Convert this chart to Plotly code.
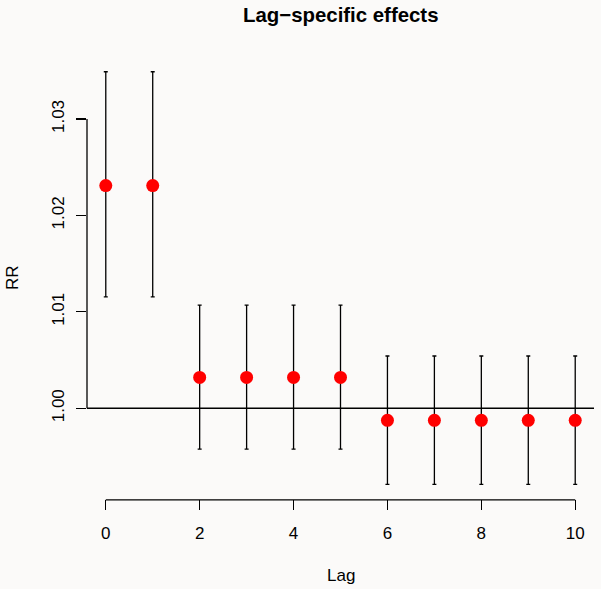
import plotly.graph_objects as go

# ---- data ----
lags = [0, 1, 2, 3, 4, 5, 6, 7, 8, 9, 10]
rr = [1.0231, 1.0231, 1.0032, 1.0032, 1.0032, 1.0032, 0.99875, 0.99875, 0.99875, 0.99875, 0.99875]
rr_high = [1.0349, 1.0349, 1.0107, 1.0107, 1.0107, 1.0107, 1.00542, 1.00542, 1.00542, 1.00542, 1.00542]
rr_low = [1.01156, 1.01156, 0.99576, 0.99576, 0.99576, 0.99576, 0.99211, 0.99211, 0.99211, 0.99211, 0.99211]
x_ticks = [0, 2, 4, 6, 8, 10]
y_ticks = [1.00, 1.01, 1.02, 1.03]
y_tick_text = ["1.00", "1.01", "1.02", "1.03"]
title_text = "Lag\u2212specific effects"
x_title = "Lag"
y_title = "RR"

BG = "#fbfaf9"
FONT = "Liberation Sans, Arial, Helvetica, sans-serif"

W, H = 601, 589
ml, mr, mt, mb = 87, 7, 57, 90

fig = go.Figure()
fig.add_trace(go.Scatter(
    x=lags, y=rr, mode="markers",
    marker=dict(color="#ff0000", size=13, line=dict(width=0)),
    error_y=dict(type="data", symmetric=False,
                 array=[h - m for h, m in zip(rr_high, rr)],
                 arrayminus=[m - l for m, l in zip(rr, rr_low)],
                 color="#000000", thickness=1.3, width=2),
    showlegend=False, hoverinfo="skip",
))

# reference line at RR = 1
fig.add_shape(type="line", xref="paper", x0=0, x1=1, yref="y", y0=1, y1=1,
              line=dict(color="#000000", width=1.3), layer="below")
# R-style axis lines spanning first to last tick
fig.add_shape(type="line", xref="x", x0=x_ticks[0], x1=x_ticks[-1], yref="paper", y0=-0.002, y1=-0.002,
              line=dict(color="#000000", width=1.3))
fig.add_shape(type="line", xref="paper", x0=0, x1=0, yref="y", y0=y_ticks[0], y1=y_ticks[-1],
              line=dict(color="#000000", width=1.3))

pw = W - ml - mr
ph = H - mt - mb

fig.update_layout(
    width=W, height=H,
    margin=dict(l=ml, r=mr, t=mt, b=mb, pad=0),
    paper_bgcolor=BG, plot_bgcolor=BG,
    font=dict(family=FONT, size=17, color="#000000"),
    hovermode=False,
    xaxis=dict(range=[-0.4, 10.4], tickvals=x_ticks, ticks="outside", ticklen=10,
               tickwidth=1.3, tickcolor="#000000", showgrid=False, zeroline=False,
               showline=False, ticklabelstandoff=9, tickfont=dict(size=17, family=FONT)),
    yaxis=dict(range=[0.99059, 1.03643], tickvals=y_ticks, ticktext=y_tick_text,
               ticks="outside", ticklen=10, tickwidth=1.3, tickcolor="#000000",
               showgrid=False, zeroline=False, showline=False, tickangle=-90,
               ticklabelstandoff=5, tickfont=dict(size=17, family=FONT)),
    annotations=[
        dict(text="<b>" + title_text + "</b>", xref="paper", yref="paper",
             x=0.5, y=1 + (mt - 15) / ph, xanchor="center", yanchor="middle",
             showarrow=False, font=dict(size=20.4, family=FONT)),
        dict(text=x_title, xref="paper", yref="paper",
             x=0.5, y=-(575 - (H - mb)) / ph, xanchor="center", yanchor="middle",
             showarrow=False, font=dict(size=17, family=FONT)),
        dict(text=y_title, xref="paper", yref="paper",
             x=-(ml - 12) / pw, y=0.5, xanchor="center", yanchor="middle",
             textangle=-90, showarrow=False, font=dict(size=17, family=FONT)),
    ],
)

fig.write_html("out.html", config={"displayModeBar": False, "staticPlot": True},
               post_script="document.body.style.margin='0';document.body.style.overflow='hidden';document.body.style.background='" + BG + "';")
